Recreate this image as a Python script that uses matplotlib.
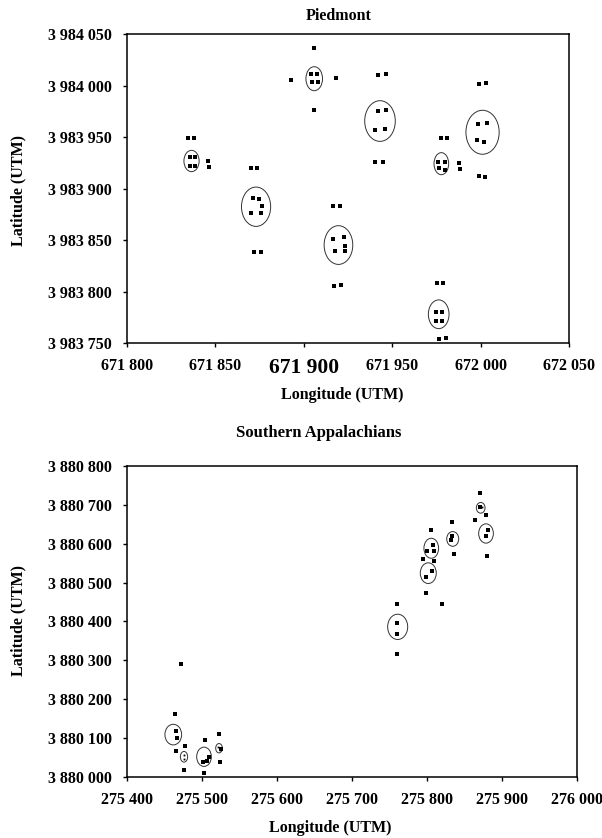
import matplotlib
matplotlib.use("Agg")
import matplotlib.pyplot as plt
from matplotlib.patches import Ellipse

plt.rcParams['font.family'] = ['Liberation Serif', 'DejaVu Serif']
plt.rcParams['font.weight'] = 'bold'

# Piedmont: sampled points (UTM)
pied_x = [671904.3, 671907.7, 671904.6, 671908.3, 671905.5, 671892.7, 671918.1, 671905.7,
          671835.4, 671838.6, 671835.6, 671838.6, 671834.4, 671837.7, 671845.7, 671846.1,
          671871.3, 671874.9, 671876.2, 671870.4, 671875.6, 671870.0, 671873.7, 671871.9, 671875.6,
          671916.4, 671922.6, 671923.2, 671917.7, 671923.2, 671916.7, 671920.3, 671917.1, 671920.9,
          671941.9, 671946.3, 671940.3, 671945.9, 671942.1, 671946.3, 671940.3, 671944.9,
          671975.9, 671979.7, 671976.3, 671979.7, 671977.5, 671981.2, 671988.0, 671988.3,
          671998.5, 672003.8, 671997.9, 672001.9, 671998.9, 672003.2, 671999.3, 672002.7,
          671974.8, 671978.2, 671974.8, 671978.2, 671975.4, 671978.8, 671976.3, 671980.3]
pied_y = [3984011.2, 3984011.2, 3984003.7, 3984003.1, 3984036.1, 3984005.3, 3984007.6, 3983976.2,
          3983930.9, 3983930.9, 3983921.8, 3983921.6, 3983948.7, 3983948.7, 3983927.0, 3983920.9,
          3983891.1, 3983889.5, 3983883.3, 3983876.2, 3983876.2, 3983919.6, 3983919.6, 3983838.6, 3983838.6,
          3983850.7, 3983853.2, 3983844.2, 3983839.0, 3983839.0, 3983883.0, 3983883.0, 3983805.6, 3983806.3,
          3983975.2, 3983975.9, 3983957.1, 3983958.1, 3984010.2, 3984011.2, 3983926.0, 3983926.0,
          3983925.7, 3983925.7, 3983920.2, 3983918.3, 3983949.3, 3983949.3, 3983925.0, 3983918.6,
          3983962.6, 3983963.3, 3983946.8, 3983945.1, 3984001.5, 3984002.1, 3983912.4, 3983911.5,
          3983780.4, 3983780.4, 3983771.7, 3983771.1, 3983808.0, 3983808.6, 3983753.9, 3983754.6]

# Piedmont: plot ellipses (centre, width, height)
pied_ex = [671905.9, 671836.5, 671873.0, 671919.6, 671943.1, 671977.8, 672001.1, 671976.3]
pied_ey = [3984006.6, 3983926.7, 3983882.3, 3983845.1, 3983965.5, 3983924.1, 3983954.6, 3983777.9]
pied_ew = [9.4, 8.6, 16.5, 16.2, 17.3, 8.3, 18.8, 11.7]
pied_eh = [23.3, 20.7, 38.2, 37.6, 39.5, 21.4, 42.7, 27.9]

pied_xticks = [671800, 671850, 671900, 671950, 672000, 672050]
pied_yticks = [3983750, 3983800, 3983850, 3983900, 3983950, 3984000, 3984050]

# Southern Appalachians
app_x = [275463.6, 275465.3, 275466.7, 275464.9, 275477.3, 275476.4, 275472.0,
         275503.6, 275500.9, 275506.3, 275508.9, 275502.7, 275523.1, 275524.9, 275524.0,
         275870.7, 275870.7, 275878.7, 275864.0, 275881.7, 275878.7, 275879.6,
         275832.9, 275832.9, 275832.0, 275836.0,
         275804.9, 275807.6, 275800.4, 275808.9, 275794.3, 275809.3, 275807.1, 275798.3,
         275798.7, 275820.0, 275760.4, 275760.4, 275759.6, 275759.6]
app_y = [3880162, 3880119, 3880101, 3880067, 3880080, 3880018, 3880290,
         3880095, 3880039, 3880041, 3880051, 3880010, 3880110, 3880072, 3880039,
         3880729, 3880695, 3880674, 3880661, 3880635, 3880620, 3880569,
         3880656, 3880620, 3880609, 3880574,
         3880636, 3880596, 3880582, 3880582, 3880560, 3880555, 3880530, 3880515,
         3880472, 3880444, 3880444, 3880395, 3880368, 3880316]
# tiny points inside the small ellipses
app_small_x = [275475.5, 275476.5, 275522.0, 275523.5, 275873.3]
app_small_y = [3880057, 3880047, 3880078, 3880070, 3880693]

app_ex = [275461.7, 275476.0, 275502.7, 275522.7, 275871.6, 275878.7, 275834.3, 275805.7, 275801.7, 275760.9]
app_ey = [3880109, 3880052, 3880052, 3880074, 3880692, 3880626, 3880612, 3880588, 3880524, 3880386]
app_ew = [22.3, 9.7, 19.6, 8.9, 11.6, 19.6, 16.0, 19.6, 21.3, 26.7]
app_eh = [53.0, 27.5, 49.6, 24.0, 27.5, 49.6, 37.8, 51.4, 53.2, 65.0]

app_xticks = [275400, 275500, 275600, 275700, 275800, 275900, 276000]
app_yticks = [3880000, 3880100, 3880200, 3880300, 3880400, 3880500, 3880600, 3880700, 3880800]


def fmt(v):
    return f"{v:,}".replace(",", " ")


def style_axes(ax):
    for s in ax.spines.values():
        s.set_linewidth(1.1)
    ax.tick_params(direction='out', length=3, width=1.0, labelsize=11.5, pad=8)


fig = plt.figure(figsize=(6.02, 8.38), dpi=100)

# --- Piedmont ---
ax1 = fig.add_axes([127/602, 1-343/838, 442/602, 309/838])
ax1.plot(pied_x, pied_y, 's', color='black', ms=2.4, mew=0)
for cx, cy, w, h in zip(pied_ex, pied_ey, pied_ew, pied_eh):
    ax1.add_patch(Ellipse((cx, cy), w, h, fill=False, ec='#333333', lw=0.7))
ax1.set_xlim(pied_xticks[0], pied_xticks[-1])
ax1.set_ylim(pied_yticks[0], pied_yticks[-1])
ax1.set_xticks(pied_xticks)
ax1.set_xticklabels([fmt(v) for v in pied_xticks])
ax1.set_yticks(pied_yticks)
ax1.set_yticklabels([fmt(v) for v in pied_yticks])
style_axes(ax1)
# the 671 900 label is set larger in the original
ax1.get_xticklabels()[2].set_fontsize(15.5)

fig.text(339/602, 1-16/838, 'Piedmont', ha='center', va='center', fontsize=11.5, fontweight='bold')
fig.text(342/602, 1-395/838, 'Longitude (UTM)', ha='center', va='center', fontsize=11.5, fontweight='bold')
fig.text(18/602, 1-190/838, 'Latitude (UTM)', ha='center', va='center', rotation=90,
         fontsize=11.5, fontweight='bold')

# --- Southern Appalachians ---
ax2 = fig.add_axes([127/602, 1-777/838, 450/602, 311.2/838])
ax2.plot(app_x, app_y, 's', color='black', ms=2.4, mew=0)
ax2.plot(app_small_x, app_small_y, 's', color='black', ms=1.3, mew=0)
for cx, cy, w, h in zip(app_ex, app_ey, app_ew, app_eh):
    ax2.add_patch(Ellipse((cx, cy), w, h, fill=False, ec='#333333', lw=0.7))
ax2.set_xlim(app_xticks[0], app_xticks[-1])
ax2.set_ylim(app_yticks[0], app_yticks[-1])
ax2.set_xticks(app_xticks)
ax2.set_xticklabels([fmt(v) for v in app_xticks])
ax2.set_yticks(app_yticks)
ax2.set_yticklabels([fmt(v) for v in app_yticks])
style_axes(ax2)

fig.text(319/602, 1-433/838, 'Southern Appalachians', ha='center', va='center', fontsize=12, fontweight='bold')
fig.text(330/602, 1-828/838, 'Longitude (UTM)', ha='center', va='center', fontsize=11.5, fontweight='bold')
fig.text(18/602, 1-620/838, 'Latitude (UTM)', ha='center', va='center', rotation=90,
         fontsize=11.5, fontweight='bold')

fig.savefig('out.png', dpi=100)
